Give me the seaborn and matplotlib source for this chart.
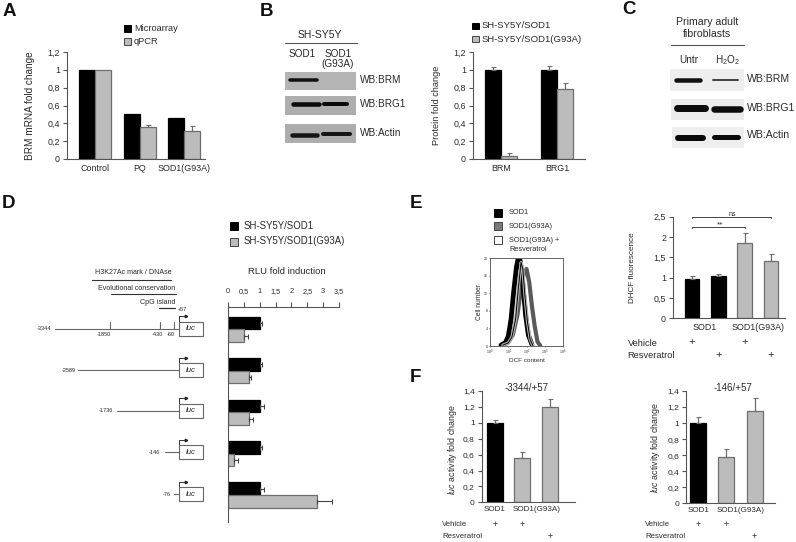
import numpy as np
import pandas as pd
import matplotlib
matplotlib.use('Agg')
import matplotlib.pyplot as plt
from matplotlib.patches import Rectangle
import seaborn as sns

W, H = 796, 542
BLACK = '#000000'
GRAY = '#bcbcbc'
EDGE = '#6e6e6e'
AXC = '#555555'
TXT = '#2a2a2a'

# panel A
a_groups = ['Control', 'PQ', 'SOD1(G93A)']
a_micro = [1.0, 0.51, 0.46]
a_qpcr = [1.0, 0.355, 0.315]
a_qpcr_err = [0.0, 0.03, 0.055]

# panel B chart
b_groups = ['BRM', 'BRG1']
b_sod1 = [1.0, 1.0]
b_g93a = [0.03, 0.78]
b_sod1_err = [0.03, 0.04]
b_g93a_err = [0.035, 0.075]

# panel D
d_constructs = ['-3344', '-2589', '-1736', '-146', '-76']
d_sod1 = [1.0, 1.0, 1.0, 1.0, 1.0]
d_g93a = [0.5, 0.65, 0.65, 0.2, 2.82]
d_sod1_err = [0.07, 0.08, 0.12, 0.08, 0.15]
d_g93a_err = [0.13, 0.08, 0.13, 0.1, 0.47]
d_ticks = [0, 0.5, 1, 1.5, 2, 2.5, 3, 3.5]

# panel E flow histogram, x in log decades, y in cell number
e_x_sod1 = [0.6, 0.85, 1.0, 1.15, 1.3, 1.45, 1.55, 1.65, 1.8, 1.95, 2.1, 2.3]
e_y_sod1 = [0.2, 0.8, 2.2, 6.0, 12.5, 18.0, 20.0, 19.5, 14.0, 7.0, 2.5, 0.3]
e_x_g93a = [0.7, 1.0, 1.25, 1.5, 1.7, 1.85, 2.0, 2.15, 2.3, 2.45, 2.6, 2.75]
e_y_g93a = [0.2, 0.8, 2.5, 7.0, 13.0, 16.5, 17.5, 14.5, 9.0, 4.5, 1.0, 0.1]
e_x_resv = [0.7, 1.0, 1.2, 1.4, 1.55, 1.7, 1.8, 1.9, 2.05, 2.2, 2.35]
e_y_resv = [0.2, 0.7, 2.0, 6.0, 13.0, 19.0, 17.5, 12.0, 5.5, 1.5, 0.1]
e_y_ticks = [0, 4, 8, 12, 16, 20]

# panel E chart
e_bars = ['SOD1 v', 'SOD1 r', 'G93A v', 'G93A r']
e_vals = [0.97, 1.05, 1.85, 1.4]
e_errs = [0.08, 0.05, 0.25, 0.17]
e_vehicle = [1, 0, 1, 0]
e_resv = [0, 1, 0, 1]

# panel F
f_bars = ['SOD1', 'G93A v', 'G93A r']
f1_vals = [1.0, 0.56, 1.2]
f1_errs = [0.04, 0.07, 0.1]
f2_vals = [1.0, 0.58, 1.15]
f2_errs = [0.08, 0.1, 0.16]
f_vehicle = [1, 1, 0]
f_resv = [0, 0, 1]

sns.set_style('white')
plt.rcParams['font.family'] = ['Liberation Sans', 'DejaVu Sans']
plt.rcParams['mathtext.fontset'] = 'custom'
plt.rcParams['mathtext.rm'] = 'Liberation Sans'
plt.rcParams['mathtext.it'] = 'Liberation Sans:italic'
plt.rcParams['mathtext.default'] = 'regular'
plt.rcParams['text.color'] = TXT

fig = plt.figure(figsize=(W / 100, H / 100), dpi=100, facecolor='white')

# overlay in pixel coordinates for the letters, blots and promoter diagram
ov = fig.add_axes([0, 0, 1, 1], zorder=5)
ov.set_xlim(0, W)
ov.set_ylim(H, 0)
ov.axis('off')
ov.patch.set_alpha(0)


def box(x0, y0, x1, y1):
    return fig.add_axes([x0 / W, 1 - y1 / H, (x1 - x0) / W, (y1 - y0) / H])


def style(ax, size=6.4, ticklen=3):
    sns.despine(ax=ax)
    for s in ['left', 'bottom', 'top']:
        ax.spines[s].set_color(AXC)
        ax.spines[s].set_linewidth(0.8)
    ax.tick_params(axis='both', labelsize=size, colors=TXT, color=AXC, width=0.8,
                   length=ticklen, pad=2, bottom=False, left=True)
    ax.set_xlabel('')
    ax.set_ylabel('')


def color_bars(ax, colors):
    for bar, c in zip(ax.patches, colors):
        bar.set_facecolor(c)
        bar.set_edgecolor(EDGE if c != BLACK else BLACK)
        bar.set_linewidth(0.9)


def add_errors(ax, errs):
    for bar, e in zip(ax.patches, errs):
        if e > 0:
            xc = bar.get_x() + bar.get_width() / 2
            ax.errorbar(xc, bar.get_height(), yerr=[[0], [e]], color=EDGE, elinewidth=0.9,
                        capsize=1.8, capthick=0.8, zorder=1)


def group_chart(ax, groups, s1, s2, e1, e2, width, xlim):
    df = pd.DataFrame({'group': groups * 2,
                       'value': s1 + s2,
                       'series': ['a'] * len(groups) + ['b'] * len(groups)})
    sns.barplot(data=df, x='group', y='value', hue='series', palette=[BLACK, GRAY],
                width=width, gap=0, errorbar=None, legend=False, ax=ax)
    color_bars(ax, [BLACK] * len(groups) + [GRAY] * len(groups))
    add_errors(ax, e1 + e2)
    ax.set_xlim(*xlim)


def single_chart(ax, labels, vals, errs, colors, width, xlim, ymax):
    df = pd.DataFrame({'bar': labels, 'value': vals})
    sns.barplot(data=df, x='bar', y='value', hue='bar', palette=colors, width=width,
                errorbar=None, legend=False, ax=ax)
    color_bars(ax, colors)
    add_errors(ax, errs)
    ax.set_xlim(*xlim)
    ax.set_ylim(0, ymax)


def comma(v):
    return f'{v:g}'.replace('.', ',')


def key(x, y, color, label, size=6.7, w=7, h=7, tx=None):
    ov.add_patch(Rectangle((x, y), w, h, fc=color, ec='#444444' if color != BLACK else BLACK, lw=0.7))
    ov.text(x + w + 3 if tx is None else tx, y + h / 2, label, fontsize=size, va='center', ha='left')


def blot(x0, y0, x1, y1, bg, bands):
    ov.add_patch(Rectangle((x0, y0), x1 - x0, y1 - y0, fc=bg, ec='none'))
    for xa, xb, yc, th, c in bands:
        ov.plot([xa + 2, xb - 2], [yc, yc], color=c, lw=th * 0.72, solid_capstyle='round')


y_ticks_12 = [0, 0.2, 0.4, 0.6, 0.8, 1, 1.2]
y_ticks_14 = [0, 0.2, 0.4, 0.6, 0.8, 1, 1.2, 1.4]

# A
ax = box(67, 52, 205, 159)
group_chart(ax, a_groups, a_micro, a_qpcr, [0, 0, 0], a_qpcr_err, 0.72, (-0.63, 2.47))
ax.set_ylim(0, 1.2)
ax.set_yticks(y_ticks_12, [comma(v) for v in y_ticks_12])
style(ax)
ax.tick_params(axis='x', pad=0.5)
ov.text(30, 105.5, 'BRM mRNA fold change', rotation=90, fontsize=7.2, ha='center', va='center')
key(124, 25, BLACK, 'Microarray')
key(124, 38, GRAY, 'qPCR')

# B chart
ax = box(473, 52, 585, 159)
group_chart(ax, b_groups, b_sod1, b_g93a, b_sod1_err, b_g93a_err, 0.571, (-0.5, 1.5))
ax.set_ylim(0, 1.2)
ax.set_yticks(y_ticks_12, [comma(v) for v in y_ticks_12])
style(ax)
ax.tick_params(axis='x', pad=0.5)
ov.text(436.5, 105.5, 'Protein fold change', rotation=90, fontsize=6.6, ha='center', va='center')
key(472, 23, BLACK, 'SH-SY5Y/SOD1', size=6.8, w=6.5, h=6)
key(472, 36, GRAY, 'SH-SY5Y/SOD1(G93A)', size=6.8, w=6.5, h=6)

# B blots
ov.text(320, 35, 'SH-SY5Y', fontsize=7.5, ha='center', va='center')
ov.plot([285, 357], [42.5, 42.5], color=AXC, lw=0.8)
ov.text(302, 54, 'SOD1', fontsize=7.2, ha='center', va='center')
ov.text(338, 59, 'SOD1\n(G93A)', fontsize=7.2, ha='center', va='center', linespacing=0.9)
blot(285, 72, 356, 90, '#b4b4b4', [(288, 319, 79.5, 3.5, '#111111')])
blot(285, 96, 356, 115, '#aeaeae', [(291, 321, 104, 4.5, '#0a0a0a'), (322, 349, 104, 4, '#0a0a0a')])
blot(285, 124, 356, 143, '#adadad', [(290, 319, 134.5, 4.5, '#151515'), (321, 352, 133.5, 4, '#151515')])
ov.text(360, 80, 'WB:BRM', fontsize=7.2, va='center')
ov.text(360, 104, 'WB:BRG1', fontsize=7.2, va='center')
ov.text(360, 133, 'WB:Actin', fontsize=7.2, va='center')

# C blots
ov.text(707, 22, 'Primary adult', fontsize=7.6, ha='center', va='center')
ov.text(707, 34, 'fibroblasts', fontsize=7.6, ha='center', va='center')
ov.plot([671, 744], [44.5, 44.5], color=AXC, lw=0.8)
ov.text(689, 60, 'Untr', fontsize=7.2, ha='center', va='center')
ov.text(727, 60, 'H$_2$O$_2$', fontsize=7.2, ha='center', va='center')
blot(670, 69, 744, 91, '#eeeeee', [(674, 702, 79.5, 4.5, '#111111'), (711, 740, 80, 2, '#444444')])
blot(671, 99, 744, 120, '#ebebeb', [(675, 707, 108, 7, '#0c0c0c'), (712, 742, 109, 6.5, '#0c0c0c')])
blot(672, 127, 744, 148, '#eeeeee', [(676, 705, 138, 6, '#0a0a0a'), (712, 740, 136.5, 5, '#0a0a0a')])
ov.text(747, 79.5, 'WB:BRM', fontsize=7.6, va='center')
ov.text(747, 108, 'WB:BRG1', fontsize=7.6, va='center')
ov.text(747, 135, 'WB:Actin', fontsize=7.6, va='center')

# D chart
ax = box(228, 307, 339, 522)
df_d = pd.DataFrame({'construct': d_constructs * 2, 'value': d_sod1 + d_g93a,
                     'series': ['a'] * 5 + ['b'] * 5})
sns.barplot(data=df_d, y='construct', x='value', hue='series', palette=[BLACK, GRAY],
            orient='y', width=0.61, gap=0, errorbar=None, legend=False, ax=ax)
color_bars(ax, [BLACK] * 5 + [GRAY] * 5)
for bar, e in zip(ax.patches, d_sod1_err + d_g93a_err):
    ax.errorbar(bar.get_width(), bar.get_y() + bar.get_height() / 2, xerr=[[0], [e]],
                color='#444444', elinewidth=0.8, capsize=1.8, capthick=0.8, zorder=1)
ax.set_xlim(0, 3.5)
ax.set_ylim(4.65, -0.54)
ax.set_xticks(d_ticks, [comma(v) for v in d_ticks])
style(ax, size=5.3)
sns.despine(ax=ax, top=False, bottom=True, right=True)
ax.tick_params(axis='x', top=True, labeltop=True, bottom=False, labelbottom=False, length=3.5, pad=5)
ax.tick_params(axis='y', left=False, labelleft=False)
key(230, 222, BLACK, 'SH-SY5Y/SOD1', size=6.9, w=8, h=8, tx=244)
key(230, 237.5, GRAY, 'SH-SY5Y/SOD1(G93A)', size=6.9, w=8, h=8, tx=244)
ov.text(287, 272, 'RLU fold induction', fontsize=6.8, ha='center', va='center')

# D promoter diagram
ov.text(133, 273, 'H3K27Ac mark / DNAse', fontsize=5.1, ha='center', va='center')
ov.plot([92, 171], [279.5, 279.5], color='#333333', lw=0.8)
ov.text(137, 288, 'Evolutional conservation', fontsize=5.1, ha='center', va='center')
ov.plot([111, 176], [293.7, 293.7], color='#333333', lw=0.8)
ov.text(158, 303, 'CpG island', fontsize=5.1, ha='center', va='center')
ov.plot([159, 175], [308, 308], color='#333333', lw=0.9)
ov.text(182, 309.5, '+57', fontsize=4, ha='center', va='center')
row_y = [328.5, 370, 410.5, 452, 494]
row_start = [55, 78, 117, 165, 174]
row_text = [51, 76, 113, 160, 171]
for name, y, x0, xt in zip(d_constructs, row_y, row_start, row_text):
    ov.plot([x0, 179], [y, y], color='#666666', lw=0.8)
    ov.add_patch(Rectangle((179, y - 7), 23.5, 14, fc='white', ec='#666666', lw=0.8, zorder=3))
    ov.text(191, y, 'luc', fontsize=5.6, style='italic', ha='center', va='center', zorder=4)
    ov.plot([179, 179, 184], [y - 7, y - 12.5, y - 12.5], color='#333333', lw=0.7)
    ov.plot([186], [y - 12.5], marker='>', ms=1.8, color='#222222')
    ov.text(xt, y, name, fontsize=4, ha='right', va='center')
for xt, name in zip([110, 160, 174], ['-1850', '-430', '-60']):
    ov.plot([xt, xt], [322, 328.5], color='#666666', lw=0.8)
    ov.text(xt - (6 if name == '-1850' else 3), 334.5, name, fontsize=4, ha='center', va='center')

# E histogram
ax = box(490, 258, 563, 346)
for xs, ys, c, lw in [(e_x_g93a, e_y_g93a, '#5a5a5a', 3.0),
                      (e_x_sod1, e_y_sod1, BLACK, 3.4),
                      (e_x_resv, e_y_resv, '#b8b8b8', 2.2),
                      (e_x_resv, e_y_resv, BLACK, 0.7)]:
    sns.lineplot(x=xs, y=ys, color=c, lw=lw, ax=ax, sort=False)
ax.set_xlim(0, 4)
ax.set_ylim(0, 20)
ax.set_xticks(range(5), [f'$10^{i}$' for i in range(5)])
ax.set_yticks(e_y_ticks, [str(v) for v in e_y_ticks])
ax.tick_params(labelsize=2.6, length=1, width=0.5, pad=0.3, colors=TXT, left=True, bottom=True)
for s in ax.spines.values():
    s.set_visible(True)
    s.set_color('#666666')
    s.set_linewidth(0.7)
ov.text(479.5, 302, 'Cell number', fontsize=4.8, rotation=90, ha='center', va='center')
ov.text(527, 360, 'DCF content', fontsize=4.6, ha='center', va='center')
key(494, 209, BLACK, 'SOD1', size=5.3, w=8, h=8, tx=509)
key(494, 222, '#7a7a7a', 'SOD1(G93A)', size=5.3, w=8, h=8, tx=509)
key(494, 236, 'white', 'SOD1(G93A) +', size=5.3, w=8, h=8, tx=509)
ov.text(509, 249.5, 'Resveratrol', fontsize=5.3, va='center')

# E chart
ax = box(673, 216.7, 785, 318.3)
single_chart(ax, e_bars, e_vals, e_errs, [BLACK, BLACK, GRAY, GRAY], 0.55, (-0.72, 3.53), 2.5)
e_t = [0, 0.5, 1, 1.5, 2, 2.5]
ax.set_yticks(e_t, [comma(v) for v in e_t])
style(ax)
ax.set_xticks([0.5, 2.5], ['SOD1', 'SOD1(G93A)'])
ax.tick_params(axis='x', pad=0.5)
ov.text(633, 268, 'DHCF fluorescence', rotation=90, fontsize=5.9, ha='center', va='center')
xt = ax.get_xaxis_transform()
frac = lambda yp: (318.3 - yp) / (318.3 - 216.7)
for i, (v, r) in enumerate(zip(e_vehicle, e_resv)):
    if v:
        ax.text(i, frac(342.5), '+', transform=xt, fontsize=8, ha='center', va='center', clip_on=False)
    if r:
        ax.text(i, frac(355), '+', transform=xt, fontsize=8, ha='center', va='center', clip_on=False)
ax.plot([0, 0, 2, 2], [2.21, 2.25, 2.25, 2.21], color='#444444', lw=0.7, clip_on=False)
ax.plot([0, 0, 3, 3], [2.46, 2.5, 2.5, 2.46], color='#444444', lw=0.7, clip_on=False)
ax.text(1.05, 2.3, '**', fontsize=6, ha='center', va='center')
ax.text(1.55, 2.56, 'ns', fontsize=5, ha='center', va='center', clip_on=False)
ov.text(627.7, 343, 'Vehicle', fontsize=6.7, va='center')
ov.text(627.7, 355.5, 'Resveratrol', fontsize=6.7, va='center')

# F charts
f_panels = [(box(481.7, 391, 575, 502.3), f1_vals, f1_errs, 0.58, (-0.47, 2.9), 502.3, 391, '-3344/+57', 526.7, 452.7, 442, 450),
            (box(686, 391, 775, 503.3), f2_vals, f2_errs, 0.57, (-0.43, 2.72), 503.3, 391, '-146/+57', 733, 656, 645, 448)]
for ax, vals, errs, width, xlim, yb, yt, title, tx, lx, vx, ly in f_panels:
    single_chart(ax, f_bars, vals, errs, [BLACK, GRAY, GRAY], width, xlim, 1.4)
    ax.set_yticks(y_ticks_14, [comma(v) for v in y_ticks_14])
    style(ax, size=6.0)
    ax.set_xticks([0, 1.5], ['SOD1', 'SOD1(G93A)'])
    ax.tick_params(axis='x', pad=0, labelsize=5.8)
    ov.text(tx, 388, title, fontsize=7, ha='center', va='center')
    ov.text(lx, ly, r'$\mathit{luc}$ activity fold change', rotation=90, fontsize=6.4, ha='center', va='center')
    ov.text(vx, 524, 'Vehicle', fontsize=5.6, va='center')
    ov.text(vx, 536, 'Resveratrol', fontsize=5.6, va='center')
    xt = ax.get_xaxis_transform()
    for i, (v, r) in enumerate(zip(f_vehicle, f_resv)):
        if v:
            ax.text(i, (yb - 524) / (yb - yt), '+', transform=xt, fontsize=6.5, ha='center', va='center', clip_on=False)
        if r:
            ax.text(i, (yb - 536) / (yb - yt), '+', transform=xt, fontsize=6.5, ha='center', va='center', clip_on=False)

# panel letters
for letter, x, y in [('A', 3, 11), ('B', 260, 11), ('C', 622, 10), ('D', 2, 204), ('E', 410, 204), ('F', 410, 378)]:
    ov.text(x, y, letter, fontsize=13.5, fontweight='bold', ha='left', va='center', color='#111111')

fig.savefig('out.png', dpi=100, facecolor='white')
